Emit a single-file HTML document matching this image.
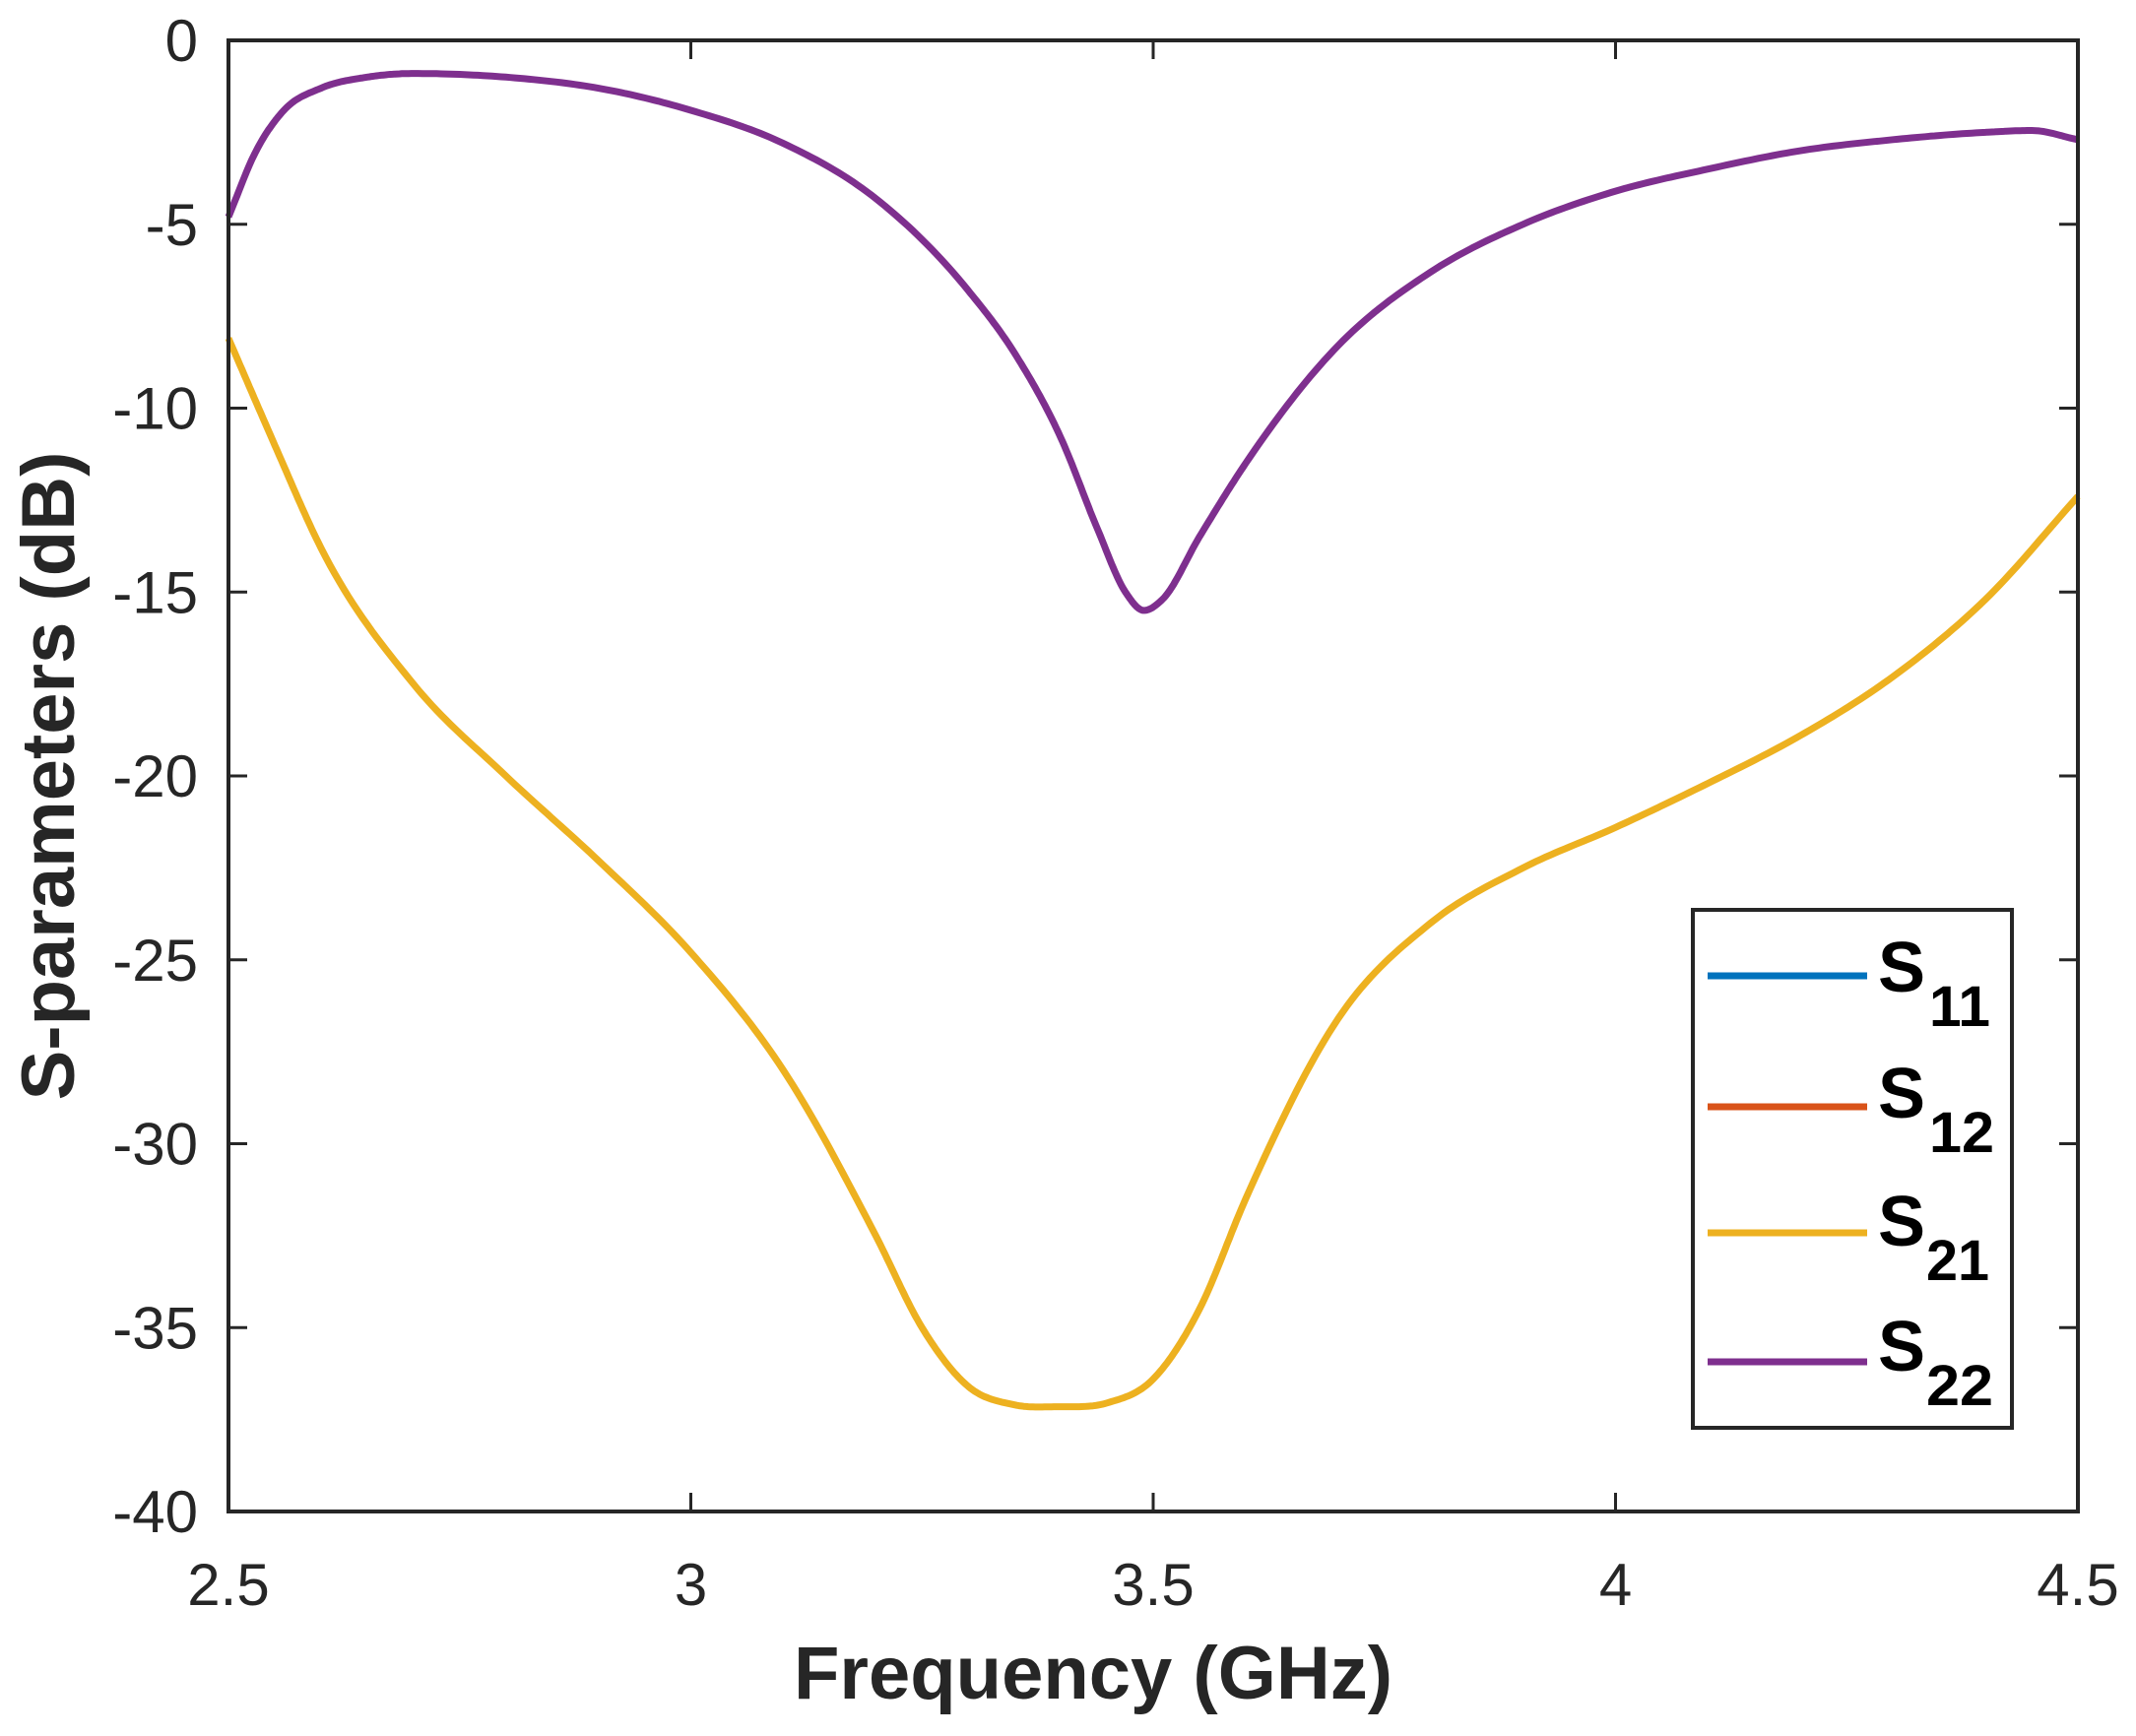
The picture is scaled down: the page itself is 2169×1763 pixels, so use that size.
<!DOCTYPE html>
<html><head><meta charset="utf-8"><style>html,body{margin:0;padding:0;background:#fff}svg{display:block}</style></head>
<body>
<svg id="s" width="2169" height="1763" viewBox="0 0 2169 1763" xmlns="http://www.w3.org/2000/svg" font-family="Liberation Sans, Arial, sans-serif">
<rect width="2169" height="1763" fill="#fff"/>
<g id="curves"></g>
<rect x="232" y="41" width="1878" height="1494" fill="none" stroke="#262626" stroke-width="4"/>
<g id="ticks" stroke="#262626" stroke-width="3"></g>
<g id="labels" fill="#262626" font-size="60"></g>
<text x="1110" y="1725" font-size="76" font-weight="bold" fill="#262626" text-anchor="middle">Frequency (GHz)</text>
<text transform="translate(75,788) rotate(-90)" font-size="76" font-weight="bold" fill="#262626" text-anchor="middle">S-parameters (dB)</text>
<rect x="1719" y="924" width="324" height="526" fill="#fff" stroke="#262626" stroke-width="4"/>
<g stroke-width="7">
<line x1="1734" y1="991" x2="1896" y2="991" stroke="#0072BD"/>
<line x1="1734" y1="1124" x2="1896" y2="1124" stroke="#D95319"/>
<line x1="1734" y1="1252" x2="1896" y2="1252" stroke="#EDB120"/>
<line x1="1734" y1="1383" x2="1896" y2="1383" stroke="#7E2F8E"/>
</g>
<g font-weight="bold" fill="#000">
<text x="1907" y="1007" font-size="72">S</text><text x="1959" y="1042" font-size="58" textLength="62" lengthAdjust="spacingAndGlyphs">11</text>
<text x="1907" y="1135" font-size="72">S</text><text x="1959" y="1170" font-size="58" textLength="66" lengthAdjust="spacingAndGlyphs">12</text>
<text x="1907" y="1265" font-size="72">S</text><text x="1956" y="1300" font-size="58" textLength="64" lengthAdjust="spacingAndGlyphs">21</text>
<text x="1907" y="1392" font-size="72">S</text><text x="1956" y="1427" font-size="58" textLength="68" lengthAdjust="spacingAndGlyphs">22</text>
</g>
</svg>
<script>
var NS="http://www.w3.org/2000/svg";
function X(f){return 232+(f-2.5)*939;}
function Y(d){return 41-d*37.35;}
function el(t,a,p){var e=document.createElementNS(NS,t);for(var k in a)e.setAttribute(k,a[k]);p.appendChild(e);return e;}
var tk=document.getElementById('ticks'),lb=document.getElementById('labels');
for(var d=0;d>=-40;d-=5){var y=Y(d);
 el('line',{x1:232,y1:y,x2:251,y2:y},tk);el('line',{x1:2110,y1:y,x2:2091,y2:y},tk);
 var t=el('text',{x:201,y:y+21,'text-anchor':'end'},lb);t.textContent=String(d);}
[2.5,3,3.5,4,4.5].forEach(function(f){var x=X(f);
 el('line',{x1:x,y1:1535,x2:x,y2:1516},tk);el('line',{x1:x,y1:41,x2:x,y2:60},tk);
 var t=el('text',{x:x,y:1630,'text-anchor':'middle'},lb);t.textContent=String(f);});
function path(pts){
 var n=pts.length,xs=pts.map(a=>a[0]),ys=pts.map(a=>a[1]),m=[];
 for(var i=0;i<n;i++){
  if(i==0)m[i]=(ys[1]-ys[0])/(xs[1]-xs[0]);
  else if(i==n-1)m[i]=(ys[n-1]-ys[n-2])/(xs[n-1]-xs[n-2]);
  else{var d0=(ys[i]-ys[i-1])/(xs[i]-xs[i-1]),d1=(ys[i+1]-ys[i])/(xs[i+1]-xs[i]);
   var h0=xs[i]-xs[i-1],h1=xs[i+1]-xs[i];
   if(d0*d1<=0)m[i]=0;else m[i]=(h1*d0+h0*d1)/(h0+h1);}
 }
 var s='M'+X(xs[0])+','+Y(ys[0]);
 for(var i=0;i<n-1;i++){var h=xs[i+1]-xs[i];
  for(var k=1;k<=20;k++){var t=k/20,t2=t*t,t3=t2*t;
   var v=(2*t3-3*t2+1)*ys[i]+(t3-2*t2+t)*h*m[i]+(-2*t3+3*t2)*ys[i+1]+(t3-t2)*h*m[i+1];
   s+=' L'+X(xs[i]+t*h).toFixed(1)+','+Y(v).toFixed(1);}}
 return s;}
var s21=[[2.5,-8.1],[2.55,-11],[2.6,-13.8],[2.7,-17.5],[2.8,-20],[2.9,-22.3],[3.0,-24.8],[3.1,-28],[3.2,-32.5],[3.25,-35],[3.3,-36.6],[3.35,-37.1],[3.4,-37.15],[3.45,-37.05],[3.5,-36.4],[3.55,-34.5],[3.6,-31.5],[3.7,-26.6],[3.8,-24],[3.9,-22.5],[4.0,-21.4],[4.1,-20.2],[4.2,-18.9],[4.3,-17.3],[4.4,-15.2],[4.5,-12.4]];
var s22=[[2.5,-4.8],[2.53,-3.0],[2.56,-1.9],[2.6,-1.3],[2.65,-1.0],[2.7,-0.9],[2.8,-1.0],[2.9,-1.3],[3.0,-1.9],[3.1,-2.8],[3.2,-4.3],[3.3,-6.8],[3.35,-8.5],[3.4,-10.8],[3.44,-13.3],[3.47,-15.0],[3.49,-15.5],[3.51,-15.2],[3.55,-13.5],[3.6,-11.5],[3.7,-8.3],[3.8,-6.3],[3.9,-5],[4.0,-4.1],[4.1,-3.5],[4.2,-3.0],[4.3,-2.7],[4.4,-2.5],[4.45,-2.45],[4.5,-2.7]];
var cg=document.getElementById('curves');
el('path',{d:path(s21),fill:'none',stroke:'#EDB120','stroke-width':7,'stroke-linejoin':'round'},cg);
el('path',{d:path(s22),fill:'none',stroke:'#7E2F8E','stroke-width':7,'stroke-linejoin':'round'},cg);
</script>
</body></html>
